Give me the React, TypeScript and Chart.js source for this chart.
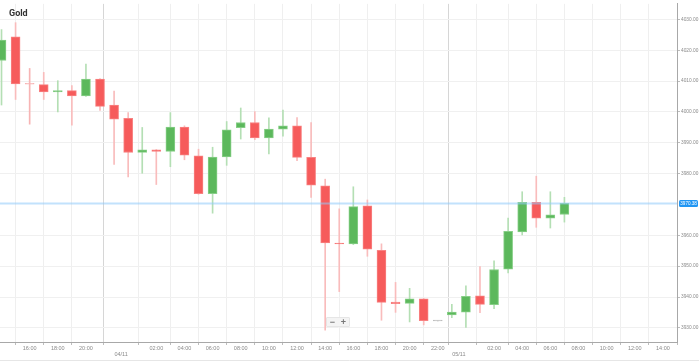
import React, { useEffect, useRef } from "react";
import { Chart, registerables } from "chart.js";

Chart.register(...registerables);

// Hourly candle times (index 0..40)
const times = [
  "14:00","15:00","16:00","17:00","18:00","19:00","20:00","21:00","22:00",
  "00:00","01:00","02:00","03:00","04:00","05:00","06:00","07:00","08:00","09:00","10:00",
  "11:00","12:00","13:00","14:00","15:00","16:00","17:00","18:00","19:00","20:00","21:00",
  "22:00","23:00","00:00","01:00","02:00","03:00","04:00","05:00","06:00","07:00",
];
const opens = [
  4016.67, 4024.36, 4008.97, 4008.85, 4006.51, 4006.92, 4005.22, 4010.67, 4002.24,
  3997.95, 3986.86, 3987.69, 3987.18, 3995.06, 3985.77, 3973.49, 3985.45, 3994.87, 3996.57, 3991.54,
  3994.42, 3995.51, 3985.26, 3976.06, 3957.5, 3957.24, 3969.55, 3955.13, 3938.33, 3937.92, 3939.42,
  3932.24, 3934.17, 3935.13, 3940.38, 3937.5, 3949.04, 3961.09, 3970.71, 3965.58, 3966.76,
];
const highs = [
  4026.7, 4028.94, 4014.1, 4012.82, 4010.13, 4008.53, 4015.48, 4010.8, 4006.73,
  3999.78, 3994.97, 3987.8, 3999.78, 3995.5, 3987.92, 3988.56, 3996.89, 4001.28, 4000.1, 3998.08,
  4000.64, 3998.17, 3996.57, 3978.21, 3968.59, 3975.74, 3971.47, 3957.24, 3944.74, 3942.82, 3939.5,
  3932.24, 3937.6, 3943.59, 3949.87, 3951.7, 3965.58, 3974.13, 3979.17, 3974.13, 3972.31,
];
const lows = [
  4002.24, 4004.04, 3996.03, 4004.04, 4000.0, 3995.71, 4005.0, 4000.51, 3983.01,
  3978.94, 3980.13, 3976.47, 3982.24, 3984.49, 3973.3, 3967.18, 3982.69, 3991.22, 3991.0, 3986.41,
  3992.18, 3984.17, 3972.31, 3929.26, 3941.76, 3957.0, 3953.21, 3932.47, 3935.03, 3931.92, 3930.96,
  3932.24, 3933.33, 3930.13, 3934.94, 3936.22, 3947.85, 3960.13, 3962.6, 3962.37, 3964.29,
];
const closes = [
  4023.27, 4009.07, 4008.97, 4006.51, 4006.92, 4005.22, 4010.67, 4001.8, 3997.63,
  3986.86, 3987.69, 3987.18, 3995.06, 3985.99, 3973.49, 3985.35, 3994.23, 3996.57, 3991.54, 3994.42,
  3995.51, 3985.26, 3976.28, 3957.56, 3957.2, 3969.33, 3955.54, 3938.24, 3937.82, 3939.42, 3932.37,
  3932.24, 3935.13, 3940.26, 3937.6, 3948.91, 3961.31, 3970.71, 3965.58, 3966.67, 3970.38,
];

// X-axis ticks (position in candle slots) and labels
const xTickPositions = [2, 4, 6, 8.5, 11, 13, 15, 17, 19, 21, 23, 25, 27, 29, 31, 32.5, 35, 37, 39, 41, 43, 45, 47];
const xTickLabels = [
  "16:00", "18:00", "20:00", "04/11", "02:00", "04:00", "06:00", "08:00", "10:00", "12:00", "14:00",
  "16:00", "18:00", "20:00", "22:00", "05/11", "02:00", "04:00", "06:00", "08:00", "10:00", "12:00", "14:00",
];
const yTickValues = [3930, 3940, 3950, 3960, 3980, 3990, 4000, 4010, 4020, 4030];
const lastPrice = 3970.38;
const title = "Gold";

const RED = "#f65b5b";
const RED_BORDER = "#f88282";
const GREEN = "#5cb85c";
const GREEN_BORDER = "#87cf87";
const RED_WICK = "#f9bcbc";
const GREEN_WICK = "#b4dfb4";
const DOJI = "#f7b4b4";
const FLAT = "#bdbdbd";

const FONT = "'Liberation Sans', Arial, sans-serif";

function kind(i: number) {
  if (closes[i] > opens[i]) return "up";
  if (closes[i] < opens[i]) return "down";
  return highs[i] > lows[i] ? "doji" : "flat";
}

export default function App() {
  const ref = useRef<HTMLCanvasElement | null>(null);

  useEffect(() => {
    if (!ref.current) return;
    const idx = times.map((_, i) => i);
    const bodyBg = idx.map((i) => ({ up: GREEN, down: RED, doji: DOJI, flat: FLAT } as any)[kind(i)]);
    const bodyBorder = idx.map((i) => ({ up: GREEN_BORDER, down: RED_BORDER, doji: DOJI, flat: FLAT } as any)[kind(i)]);
    const wickColor = idx.map((i) => ({ up: GREEN_WICK, down: RED_WICK, doji: DOJI, flat: FLAT } as any)[kind(i)]);

    const overlay = {
      id: "overlay",
      afterDatasetsDraw(chart: any) {
        const { ctx, chartArea, scales } = chart;
        const y = Math.round(scales.y.getPixelForValue(lastPrice)) + 0.5;
        ctx.save();
        ctx.strokeStyle = "rgba(144, 202, 249, 0.55)";
        ctx.lineWidth = 2;
        ctx.beginPath();
        ctx.moveTo(chartArea.left, y);
        ctx.lineTo(chartArea.right, y);
        ctx.stroke();
        ctx.restore();
      },
      afterDraw(chart: any) {
        const { ctx, chartArea, scales } = chart;
        const y = Math.round(scales.y.getPixelForValue(lastPrice)) + 0.5;
        ctx.save();
        // price label
        const bx = chartArea.right + 2;
        ctx.fillStyle = "#2196f3";
        ctx.beginPath();
        (ctx as any).roundRect ? ctx.roundRect(bx, y - 3.5, 19, 7, 1.5) : ctx.rect(bx, y - 3.5, 19, 7);
        ctx.fill();
        ctx.fillStyle = "#ffffff";
        ctx.font = `4.6px ${FONT}`;
        ctx.textBaseline = "middle";
        ctx.textAlign = "left";
        ctx.fillText(lastPrice.toFixed(2), bx + 1.3, y + 0.3);
        // title
        ctx.fillStyle = "#333333";
        ctx.font = `bold 9px Roboto, ${FONT}`;
        ctx.textBaseline = "alphabetic";
        ctx.fillText(title, 9, 15.5);
        // bottom border
        ctx.strokeStyle = "#e6e6e6";
        ctx.lineWidth = 1;
        ctx.beginPath();
        ctx.moveTo(0, 360.5);
        ctx.lineTo(699, 360.5);
        ctx.stroke();
        ctx.restore();
      },
    };

    const chart = new Chart(ref.current, {
      type: "bar",
      data: {
        datasets: [
          {
            label: "body",
            data: idx.map((i) => ({ x: i, y: [opens[i], closes[i]] })) as any,
            backgroundColor: bodyBg,
            borderColor: bodyBorder,
            borderWidth: 1,
            borderSkipped: false,
            barThickness: 9,
            minBarLength: 1,
            grouped: false,
            order: 0,
          } as any,
          {
            label: "wick",
            data: idx.map((i) => ({ x: i, y: [lows[i], highs[i]] })) as any,
            backgroundColor: wickColor,
            borderWidth: 0,
            barThickness: 1,
            grouped: false,
            order: 1,
          } as any,
        ],
      },
      options: {
        animation: false,
        responsive: false,
        maintainAspectRatio: false,
        layout: { padding: 0 },
        plugins: { legend: { display: false }, tooltip: { enabled: false }, title: { display: false } },
        scales: {
          x: {
            type: "linear",
            min: -0.107,
            max: 48.0,
            offset: false,
            afterBuildTicks: (scale: any) => {
              scale.ticks = xTickPositions.map((v) => ({ value: v }));
            },
            afterFit: (scale: any) => {
              scale.height = 20;
            },
            grid: {
              color: (ctx: any) => (xTickLabels[ctx.index] && xTickLabels[ctx.index].includes("/") ? "#d6d6d6" : "#efefef"),
              tickColor: "#bdbdbd",
              tickLength: 3,
              lineWidth: 1,
            },
            border: { display: true, color: "#a8a8a8" },
            ticks: {
              autoSkip: false,
              maxRotation: 0,
              minRotation: 0,
              padding: 0,
              color: "#8a8a8a",
              font: { size: 5.5, family: FONT },
              callback: (_v: any, i: number) => {
                const l = xTickLabels[i];
                return l.includes("/") ? ["", l] : l;
              },
            },
          },
          y: {
            position: "right",
            min: 3925.42,
            max: 4035.03,
            afterBuildTicks: (scale: any) => {
              scale.ticks = yTickValues.map((v) => ({ value: v }));
            },
            afterFit: (scale: any) => {
              scale.width = 22;
            },
            grid: { color: "#f0f0f0", tickColor: "#bdbdbd", tickLength: 3 },
            border: { display: true, color: "#a8a8a8" },
            ticks: {
              padding: 1,
              color: "#8a8a8a",
              font: { size: 4.8, family: FONT },
              callback: (v: any) => Number(v).toFixed(2),
            },
          },
        },
      },
      plugins: [overlay],
    });
    return () => chart.destroy();
  }, []);

  const btn: React.CSSProperties = {
    width: 11,
    height: 9,
    display: "flex",
    alignItems: "center",
    justifyContent: "center",
    fontFamily: FONT,
    fontSize: 9,
    fontWeight: "bold",
    color: "#777",
    lineHeight: "9px",
  };

  return (
    <div style={{ position: "fixed", left: 0, top: 0, width: 699, height: 362, background: "#fff" }}>
      <canvas ref={ref} width={699} height={362} style={{ display: "block" }} />
      <div
        style={{
          position: "absolute",
          left: 326,
          top: 317,
          width: 24,
          height: 10,
          background: "#f4f4f4",
          border: "1px solid #e6e6e6",
          borderRadius: 1,
          display: "flex",
          boxSizing: "border-box",
        }}
      >
        <div style={btn}>−</div>
        <div style={btn}>+</div>
      </div>
    </div>
  );
}
